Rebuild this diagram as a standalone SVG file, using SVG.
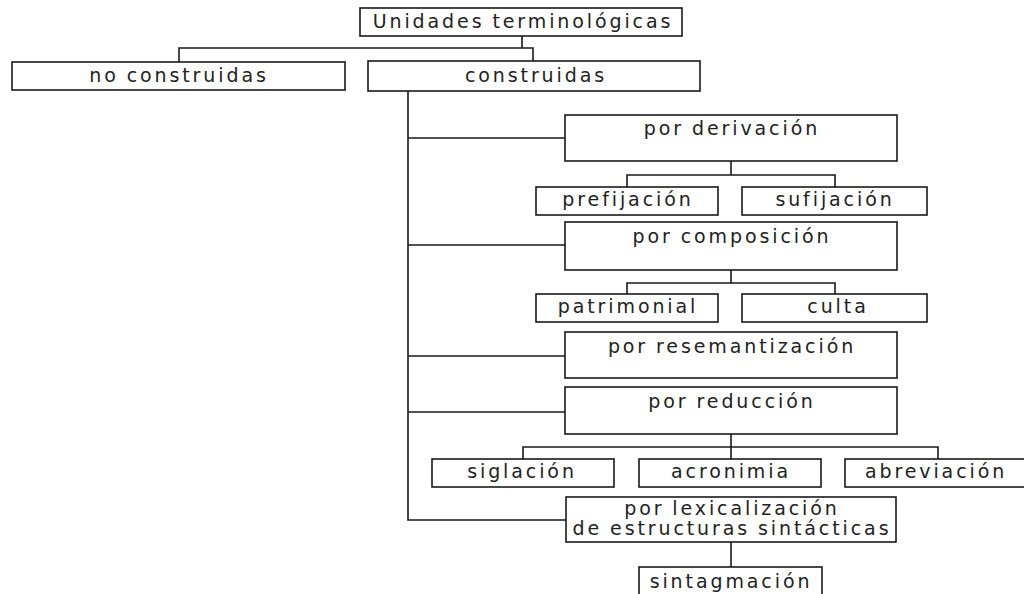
<svg xmlns="http://www.w3.org/2000/svg" width="1024" height="594" viewBox="0 0 1024 594">
<style>
.b{fill:#fff;stroke:#1a1a1a;stroke-width:1.6}
.c{fill:none;stroke:#1a1a1a;stroke-width:1.6}
text{font-family:"DejaVu Sans","Liberation Sans",Arial,sans-serif;font-size:19px;letter-spacing:2.9px;word-spacing:-1px;fill:#222;text-anchor:middle}
</style>
<rect width="1024" height="594" fill="#fff"/>
<g id="connectors">
<path class="c" d="M522,36V48M179,62V48H533V61"/>
<path class="c" d="M408,91V520H566M408,138H566M408,245H566M408,356H566M408,412H566"/>
<path class="c" d="M731,161V175M627,187V175H835V187"/>
<path class="c" d="M731,270V283M627,294V283H835V294"/>
<path class="c" d="M731,434V447M523,459V447H938V459M731,447V459"/>
<path class="c" d="M731,542V567"/>
</g>
<g id="n-unidades"><rect class="b" x="360" y="8" width="322" height="28"/><text x="523" y="28">Unidades terminológicas</text></g>
<g id="n-noconstruidas"><rect class="b" x="12" y="62" width="333" height="28"/><text x="179" y="82">no construidas</text></g>
<g id="n-construidas"><rect class="b" x="368" y="61" width="332" height="30"/><text x="536" y="82">construidas</text></g>
<g id="n-derivacion"><rect class="b" x="565" y="115" width="332" height="46"/><text x="732" y="135">por derivación</text></g>
<g id="n-prefijacion"><rect class="b" x="536" y="187" width="182" height="28"/><text x="628" y="206">prefijación</text></g>
<g id="n-sufijacion"><rect class="b" x="742" y="187" width="185" height="28"/><text x="835" y="206">sufijación</text></g>
<g id="n-composicion"><rect class="b" x="565" y="222" width="332" height="48"/><text x="732" y="243">por composición</text></g>
<g id="n-patrimonial"><rect class="b" x="536" y="294" width="182" height="28"/><text x="628" y="313">patrimonial</text></g>
<g id="n-culta"><rect class="b" x="742" y="294" width="185" height="28"/><text x="838" y="313">culta</text></g>
<g id="n-resemantizacion"><rect class="b" x="565" y="332" width="332" height="46"/><text x="732" y="353">por resemantización</text></g>
<g id="n-reduccion"><rect class="b" x="565" y="387" width="332" height="47"/><text x="732" y="408">por reducción</text></g>
<g id="n-siglacion"><rect class="b" x="432" y="459" width="182" height="28"/><text x="522" y="478">siglación</text></g>
<g id="n-acronimia"><rect class="b" x="639" y="459" width="182" height="28"/><text x="731" y="478">acronimia</text></g>
<g id="n-abreviacion"><rect class="b" x="845" y="459" width="186" height="28"/><text x="936" y="478">abreviación</text></g>
<g id="n-lexicalizacion"><rect class="b" x="566" y="497" width="330" height="45"/><text x="732" y="515">por lexicalización</text><text x="732" y="535">de estructuras sintácticas</text></g>
<g id="n-sintagmacion"><rect class="b" x="639" y="567" width="183" height="32"/><text x="731" y="588">sintagmación</text></g>
</svg>
